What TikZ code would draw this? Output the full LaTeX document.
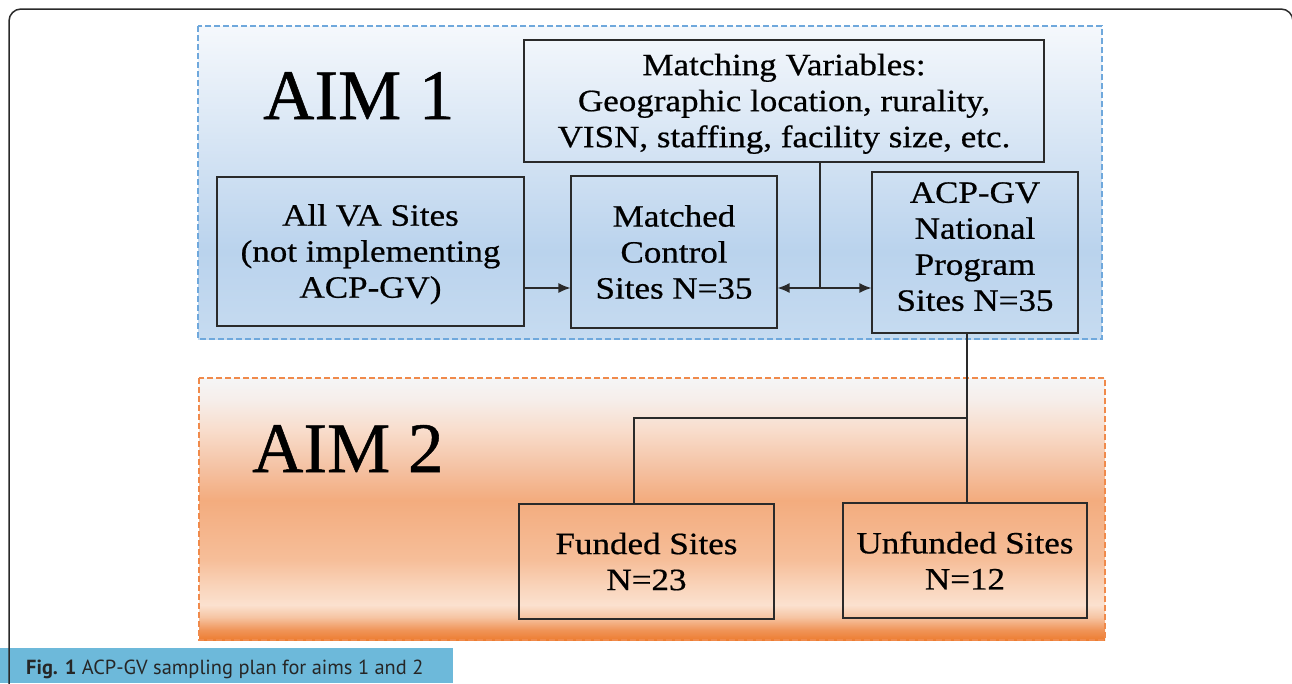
\documentclass[tikz,border=0pt]{standalone}
\usepackage{fontspec}
\setmainfont{Liberation Serif}
\newfontfamily\boxfont[FakeStretch=1.13,FakeBold=0.6]{Liberation Serif}
\newfontfamily\aimfont[FakeBold=0.7]{Liberation Serif}
\newfontfamily\capfont{PT Sans}
\usetikzlibrary{arrows.meta}
\definecolor{bA}{HTML}{C6DBF0}
\definecolor{bB}{HTML}{BAD3ED}
\definecolor{bC}{HTML}{F5F8FC}
\definecolor{oA}{HTML}{ED7D31}
\definecolor{oB}{HTML}{F09458}
\definecolor{oC}{HTML}{F6C5A4}
\definecolor{oD}{HTML}{FBE1CF}
\definecolor{oE}{HTML}{F9D3B9}
\definecolor{oF}{HTML}{F6BE99}
\definecolor{oG}{HTML}{F3AC7E}
\definecolor{oH}{HTML}{F4C0A0}
\definecolor{oI}{HTML}{F8DDCC}
\definecolor{oJ}{HTML}{F6EEEA}
\definecolor{oK}{HTML}{F5F5F6}
\definecolor{blueborder}{HTML}{6FA8DC}
\definecolor{orangeborder}{HTML}{F08A4B}
\definecolor{capblue}{HTML}{6DB9DA}
\definecolor{linec}{HTML}{2A2A2A}
\pgfdeclareverticalshading{aimoneshade}{100bp}{color(0bp)=(bA); color(25bp)=(bA); color(39bp)=(bB); color(75bp)=(bC); color(100bp)=(bC)}
\pgfdeclareverticalshading{aimtwoshade}{100bp}{color(0bp)=(oA); color(25bp)=(oA); color(26.9bp)=(oB); color(29.4bp)=(oC); color(31.7bp)=(oD); color(35.5bp)=(oE); color(40.3bp)=(oF); color(51.7bp)=(oG); color(57.4bp)=(oH); color(65.1bp)=(oI); color(70.8bp)=(oJ); color(75bp)=(oK); color(100bp)=(oK)}
\newcommand{\toppad}{\rule{0pt}{27pt}}
\newcommand{\botpad}{\rule[-12pt]{0pt}{12pt}}
\tikzset{
  sitebox/.style={draw=linec, line width=1.2pt, align=center, inner sep=0pt,
    font=\boxfont\fontsize{31}{36}\selectfont},
  conn/.style={draw=linec, line width=1.3pt},
  aimlabel/.style={anchor=base west, inner sep=0pt, font=\aimfont\fontsize{71}{80}\selectfont},
}
\begin{document}
\begin{tikzpicture}[x=1pt,y=-1pt,>={Latex[length=12pt,width=10pt]}]
\useasboundingbox (0,0) rectangle (1292,683);
\fill[white] (0,0) rectangle (1292,683);
% aim regions
\shade[shading=aimoneshade] (198,26) rectangle (1102,339);
\draw[blueborder, dash pattern=on 6pt off 3pt, line width=1.1pt] (198,26) rectangle (1102,339);
\shade[shading=aimtwoshade] (199,378) rectangle (1105,640);
\draw[orangeborder, dash pattern=on 6pt off 3pt, line width=1.1pt] (199,378) rectangle (1105,640);
% labels
\node[aimlabel] (aimone) at (263,119) {AIM 1};
\node[aimlabel] (aimtwo) at (252,472) {AIM 2};
% boxes
\node[sitebox, minimum width=520pt, minimum height=122pt] (mv) at (784,101)
  {\toppad Matching Variables:\\Geographic location, rurality,\\VISN, staffing, facility size, etc.};
\node[sitebox, minimum width=307pt, minimum height=149pt] (allva) at (370.5,251.5)
  {\toppad All VA Sites\\(not implementing\\ACP-GV)};
\node[sitebox, minimum width=206pt, minimum height=152pt] (mc) at (674,252)
  {Matched\\Control\\Sites N=35};
\node[sitebox, minimum width=206pt, minimum height=161pt] (acp) at (975,252.5)
  {ACP-GV\\National\\Program\\Sites N=35\botpad};
\node[sitebox, minimum width=255pt, minimum height=115pt] (fund) at (646.5,561.5)
  {Funded Sites\\N=23};
\node[sitebox, minimum width=244pt, minimum height=115pt] (unf) at (965,560.5)
  {Unfunded Sites\\N=12};
% connectors
\coordinate (mvdrop) at (820,288);
\draw[conn] (mv.south -| mvdrop) -- (mvdrop);
\draw[conn, ->] (allva.east |- mvdrop) -- (mc.west |- mvdrop);
\draw[conn, <->] (mc.east |- mvdrop) -- (acp.west |- mvdrop);
\coordinate (split) at (967,418);
\coordinate (fjoin) at (634,418);
\draw[conn] (acp.south -| split) -- (unf.north -| split);
\draw[conn] (split) -- (fjoin) -- (fjoin |- fund.north);
% caption
\fill[capblue] (0,648) rectangle (453,683);
\node[anchor=base west, inner sep=0pt, text=black!85, font=\capfont\fontsize{20.4}{24}\selectfont] (cap) at (26,674)
  {\textbf{Fig. 1} ACP-GV sampling plan for aims 1 and 2};
% outer frame
\draw[linec, line width=1.5pt, rounded corners=12pt] (9,700) -- (9,9) -- (1293,9) -- (1293,700);
\end{tikzpicture}
\end{document}
